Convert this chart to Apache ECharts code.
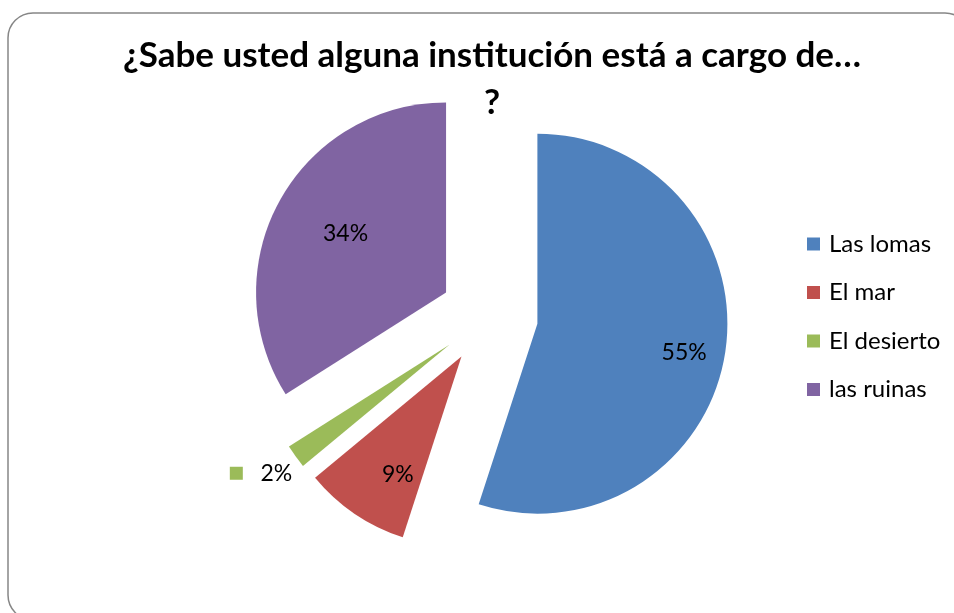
<!DOCTYPE html>
<html>
<head>
<meta charset="utf-8">
<script src="https://cdn.jsdelivr.net/npm/echarts@6/dist/echarts.min.js"></script>
<style>html,body{margin:0;padding:0;background:#fff;}#c{width:954px;height:613px;}</style>
</head>
<body>
<div id="c"></div>
<script>
// Data
const titleText = '¿Sabe usted alguna institución está a cargo de…\n?';
const categories = ['Las lomas', 'El mar', 'El desierto', 'las ruinas'];
const values = [55, 9, 2, 34];
const colors = ['#4F81BD', '#C0504D', '#9BBB59', '#8064A2'];

// Style: radial placement factor and small angular turn (deg) of each label
const labelScale = [2.026, 1.867, 2.826, 1.69];
const labelTurn = [1.7, -4.3, 1.4, 1.2];
const center = [489, 316];

const chart = echarts.init(document.getElementById('c'));
const font = 'Lato, "Liberation Sans", sans-serif';

const sliceData = categories.map((name, i) => ({
  name: name, value: values[i], selected: true, itemStyle: { color: colors[i] }
}));

const labelData = categories.map((name, i) => {
  const item = { name: name, value: values[i] };
  if (i === 2) {
    item.label = {
      formatter: '{sq|}   {c}%',
      rich: { sq: { width: 13, height: 13, backgroundColor: colors[i] } }
    };
  }
  return item;
});

chart.setOption({
  animation: false,
  backgroundColor: '#ffffff',
  title: {
    text: titleText,
    left: 487,
    top: 27,
    textAlign: 'center',
    textStyle: { fontFamily: font, fontSize: 35, fontWeight: 'bold', color: '#000', lineHeight: 47 }
  },
  legend: {
    orient: 'vertical',
    left: 807,
    top: 232,
    padding: 0,
    itemWidth: 13,
    itemHeight: 13,
    itemGap: 24.5,
    icon: 'rect',
    selectedMode: false,
    data: categories,
    textStyle: { fontFamily: font, fontSize: 24, lineHeight: 24, color: '#000', padding: [0, 0, 0, 4] }
  },
  graphic: [{
    type: 'rect',
    silent: true,
    shape: { x: 8, y: 13, width: 962, height: 607, r: 25 },
    style: { fill: 'none', stroke: '#868686', lineWidth: 1.5 }
  }],
  series: [{
    type: 'pie',
    center: center,
    radius: 190,
    startAngle: 90,
    clockwise: true,
    selectedMode: 'multiple',
    selectedOffset: 49,
    avoidLabelOverlap: false,
    emphasis: { disabled: true },
    label: { show: false },
    labelLine: { show: false },
    data: sliceData
  }, {
    // label carrier: same slices, transparent, not exploded
    type: 'pie',
    center: center,
    radius: 190,
    startAngle: 90,
    clockwise: true,
    silent: true,
    selectedMode: false,
    avoidLabelOverlap: false,
    emphasis: { disabled: true },
    itemStyle: { color: 'rgba(0,0,0,0)' },
    label: {
      show: true,
      position: 'inside',
      formatter: '{c}%',
      fontFamily: font,
      fontSize: 23,
      color: '#000'
    },
    labelLine: { show: false },
    labelLayout: function (p) {
      const r = p.labelRect;
      const vx = (r.x + r.width / 2 - center[0]) * labelScale[p.dataIndex];
      const vy = (r.y + r.height / 2 - center[1]) * labelScale[p.dataIndex];
      const a = labelTurn[p.dataIndex] * Math.PI / 180;
      return {
        x: center[0] + vx * Math.cos(a) - vy * Math.sin(a),
        y: center[1] + vx * Math.sin(a) + vy * Math.cos(a),
        align: 'center',
        verticalAlign: 'middle'
      };
    },
    data: labelData
  }]
});
</script>
</body>
</html>
